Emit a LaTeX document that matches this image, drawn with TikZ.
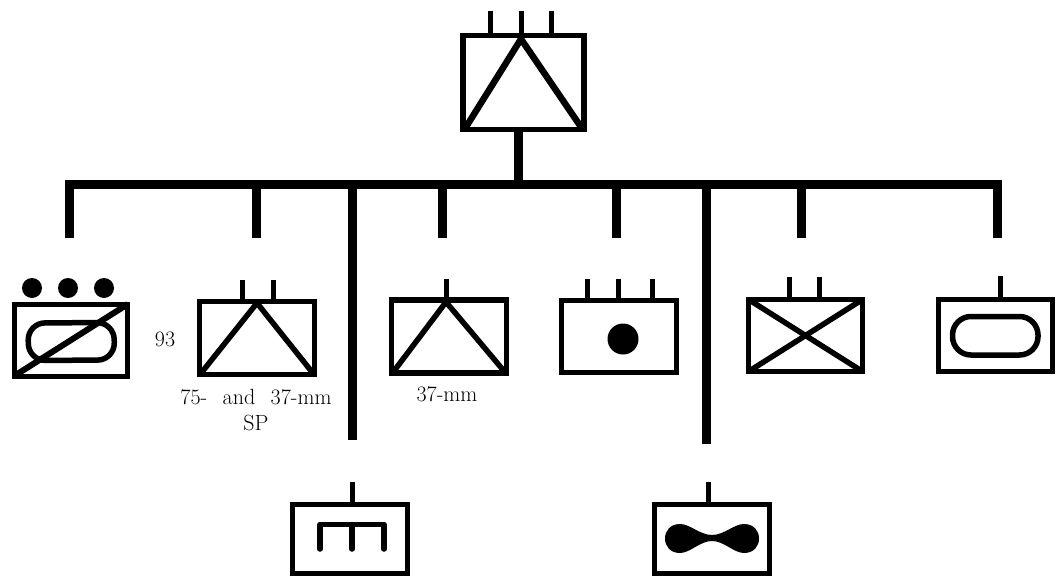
\documentclass[tikz,border=0pt]{standalone}
\begin{document}
\begin{tikzpicture}[x=1pt,y=-1pt,
  ubox/.style={draw=black,line width=5.5pt,rectangle,inner sep=0pt,outer sep=0pt,minimum width=#1,minimum height=73pt},
  ubox/.default=115pt,
  bus/.style={line width=9pt,black},
  mast/.style={line width=5pt,black},
  sym/.style={line width=5.5pt,black,line join=round},
  lbl/.style={font=\fontsize{22}{26}\selectfont,align=center,inner sep=0pt,text=black}]
\useasboundingbox[fill=white] (0,0) rectangle (1056,578);

% bus coordinates
\coordinate (busL) at (64.5,184.5);
\coordinate (busR) at (1001.5,184.5);
\coordinate (j0) at (518,184.5);

% top unit
\node[ubox=121pt,minimum height=94pt] (hq) at (523.5,82.5) {};
\draw[bus] (hq.south -| j0) -- (j0);
\draw[bus] (busL) -- (busR);
\draw[mast] (490.5,11) -- (490.5,36);
\draw[mast] (521,11) -- (521,38);
\draw[mast] (551,11) -- (551,36);
\draw[line width=6.5pt,black,line join=miter] (466,127) -- (521,39) -- (581,127);

% units
\node[ubox=113pt,minimum height=72pt] (a) at (71,340.5) {};
\node[ubox=115pt,minimum height=73pt] (b) at (257,338) {};
\node[ubox=115pt,minimum height=73pt] (c) at (449,336.5) {};
\node[ubox=115pt,minimum height=72pt] (d) at (619,336.5) {};
\node[ubox=114pt,minimum height=72pt] (e) at (805.5,335.5) {};
\node[ubox=114pt,minimum height=72pt] (f) at (995.5,335.5) {};
\node[ubox=115pt,minimum height=69pt] (g) at (350,539) {};
\node[ubox=115pt,minimum height=69pt] (h) at (712,539) {};

% drop ends
\coordinate (da) at (69,238);
\coordinate (db) at (256,238);
\coordinate (dg) at (352,440);
\coordinate (dc) at (442,238);
\coordinate (dd) at (616,238);
\coordinate (dh) at (706,444);
\coordinate (de) at (801,238);
\coordinate (df) at (997,238);
\foreach \n in {da,db,dg,dc,dd,dh,de,df}
  \draw[bus] (\n |- busL) -- (\n);

% a: tank with slash and three dots
\foreach \x in {32,68,104} \fill[black] (\x,288) circle (10);
\draw[sym,rounded corners=17] (28,323) -- (114,322.5) -- (114.5,360) -- (28.5,360.5) -- cycle;
\draw[sym,line width=6pt] (a.south west) ++(2,-2) -- (128,304);

% b
\draw[mast] (242,280) -- (242,300);
\draw[mast] (273,280) -- (273,300);
\draw[sym] (202,372) -- (257,303) -- (312,372);

% c
\draw[mast] (446,279) -- (446,298);
\draw[sym] (394,371) -- (446,302) -- (504,371);

% d
\draw[mast] (587,279) -- (587,299);
\draw[mast] (618,279) -- (618,299);
\draw[mast] (652,279) -- (652,299);
\fill[black] (623,339) circle (15.5);

% e
\draw[mast] (789,277) -- (789,298);
\draw[mast] (819,277) -- (819,298);
\draw[sym] (e.north west) -- (e.south east);
\draw[sym] (e.south west) -- (e.north east);

% f
\draw[mast] (1000,276) -- (1000,298);
\draw[sym,rounded corners=18.5] (952.5,316.5) -- (1038,316.5) -- (1038,355) -- (952.5,355) -- cycle;

% g
\draw[mast] (352,482) -- (352,504);
\draw[sym,line cap=round] (320,549) -- (320,524.5) -- (384,524.5) -- (384,549);
\draw[sym,line cap=round] (352,524.5) -- (352,549);

% h
\draw[mast] (708,482) -- (708,504);
\fill[black] (712,535) .. controls (700,535) and (690,524) .. (680,524)
  .. controls (670,524) and (665,531) .. (665,538.5)
  .. controls (665,546) and (670,553) .. (680,553)
  .. controls (690,553) and (700,541) .. (712,541)
  .. controls (724,541) and (734,553) .. (744,553)
  .. controls (754,553) and (759,546) .. (759,538.5)
  .. controls (759,531) and (754,524) .. (744,524)
  .. controls (734,524) and (724,535) .. (712,535) -- cycle;

% labels
\node[lbl] (n93) at (165,339) {93};
\node[lbl] (lb) at (256,410) {75-\hspace{0.7em}and\hspace{0.7em}37-mm\\SP};
\node[lbl] (lc) at (447,394) {37-mm};
\end{tikzpicture}
\end{document}
